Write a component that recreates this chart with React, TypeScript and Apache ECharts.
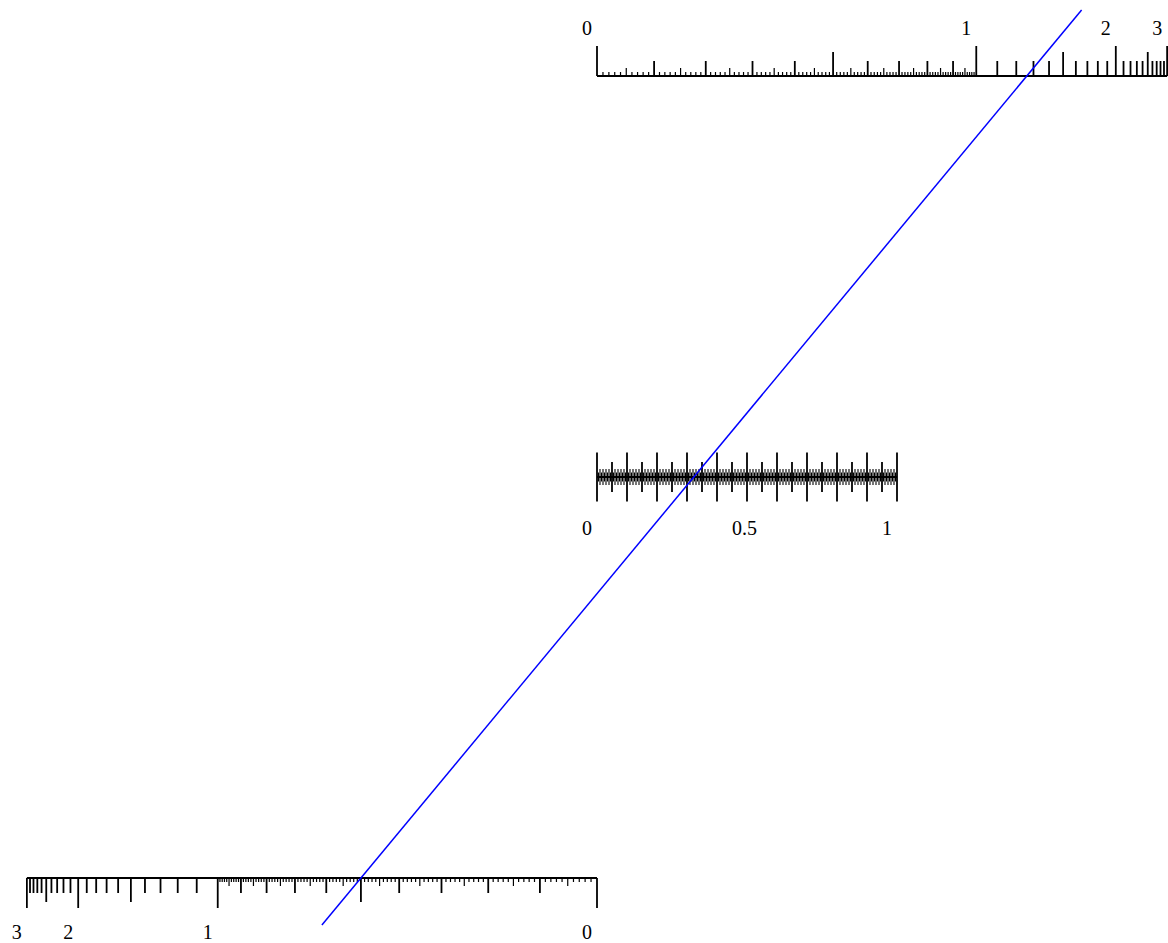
import React, { useEffect, useRef } from "react";
import * as echarts from "echarts";

// ---- data ----
const EXP_SCALE_MAX = 3; // outer scales run 0..3 on a 1 - e^-v scale
const EXP_LABELS = [0, 1, 2, 3];
const MID_SCALE_MAX = 1; // middle scale runs 0..1 linearly
const MID_LABELS = [0, 0.5, 1];
const ISOPLETH_BOTTOM = 0.5; // value read on the bottom scale
const ISOPLETH_TOP = 1.26; // value read on the top scale
const ISOPLETH_LEVELS = [-0.0586, 1.0823]; // how far the line extends past the outer scales

// scale levels (y axis)
const LEVEL_TOP = 1;
const LEVEL_MID = 0.5;
const LEVEL_BOT = 0;

const expU = (v: number) => 1 - Math.exp(-v);
const midU = (v: number) => v / 2;

// tick lengths (px)
const EXP_TICK_LEN = [30, 24, 15, 8, 4];
const MID_TICK_HALF = [24.5, 15, 8, 4.5];

function buildTicks() {
  const out: number[][] = [];
  for (let k = 0; k <= EXP_SCALE_MAX * 100; k++) {
    const v = k / 100;
    let rank: number;
    if (k % 100 === 0) rank = 0;
    else if (k % 50 === 0) rank = 1;
    else if (k % 10 === 0) rank = 2;
    else if (v < 1 && k % 5 === 0) rank = 3;
    else if (v < 1) rank = 4;
    else continue;
    out.push([expU(v), LEVEL_TOP, rank, 1]);
    out.push([-expU(v), LEVEL_BOT, rank, -1]);
  }
  for (let k = 0; k <= MID_SCALE_MAX * 200; k++) {
    const v = k / 200;
    let rank: number;
    if (k % 20 === 0) rank = 0;
    else if (k % 10 === 0) rank = 1;
    else if (k % 2 === 0) rank = 2;
    else rank = 3;
    out.push([midU(v), LEVEL_MID, rank, 0]);
  }
  return out;
}

type LabelItem = { u: number; level: number; text: string; dy: number };
function buildLabels(): LabelItem[] {
  const out: LabelItem[] = [];
  EXP_LABELS.forEach((v) => {
    out.push({ u: expU(v), level: LEVEL_TOP, text: String(v), dy: -47.7 });
    out.push({ u: -expU(v), level: LEVEL_BOT, text: String(v), dy: 53.5 });
  });
  MID_LABELS.forEach((v) => {
    out.push({ u: midU(v), level: LEVEL_MID, text: String(v), dy: 51 });
  });
  return out;
}

export default function App() {
  const ref = useRef<HTMLDivElement>(null);
  useEffect(() => {
    if (!ref.current) return;
    const chart = echarts.init(ref.current, null, { renderer: "svg" });
    const ticks = buildTicks();
    const labels = buildLabels();
    const xb = -expU(ISOPLETH_BOTTOM);
    const xt = expU(ISOPLETH_TOP);
    const isoAt = (y: number) => [xb + (xt - xb) * y, y];

    const PX_PER_U = 600;
    const ORIGIN_X = 597;
    const W = 1168;

    chart.setOption({
      animation: false,
      grid: { left: 0, right: 0, top: 76, bottom: 65 },
      xAxis: {
        type: "value",
        min: -ORIGIN_X / PX_PER_U,
        max: (W - ORIGIN_X) / PX_PER_U,
        show: false,
      },
      yAxis: { type: "value", min: 0, max: 1, show: false },
      series: [
        {
          type: "line",
          data: [
            [0, LEVEL_TOP],
            [expU(EXP_SCALE_MAX), LEVEL_TOP],
          ],
          symbol: "none",
          lineStyle: { color: "#000", width: 1.8 },
          silent: true,
        },
        {
          type: "line",
          data: [
            [0, LEVEL_BOT],
            [-expU(EXP_SCALE_MAX), LEVEL_BOT],
          ],
          symbol: "none",
          lineStyle: { color: "#000", width: 1.8 },
          silent: true,
        },
        {
          type: "line",
          data: [
            [0, LEVEL_MID],
            [midU(MID_SCALE_MAX), LEVEL_MID],
          ],
          symbol: "none",
          lineStyle: { color: "#000", width: 1.8 },
          silent: true,
        },
        {
          type: "custom",
          clip: false,
          silent: true,
          data: ticks,
          renderItem: (params: any, api: any) => {
            const u = api.value(0);
            const lvl = api.value(1);
            const rank = api.value(2);
            const dir = api.value(3);
            const p = api.coord([u, lvl]);
            if (dir === 0) {
              const h = MID_TICK_HALF[rank];
              return {
                type: "line",
                shape: { x1: p[0], y1: p[1] - h, x2: p[0], y2: p[1] + h },
                style: { stroke: "#000", lineWidth: rank < 2 ? 1.8 : 1.1 },
              };
            }
            const h = EXP_TICK_LEN[rank];
            return {
              type: "line",
              shape: { x1: p[0], y1: p[1], x2: p[0], y2: p[1] - dir * h },
              style: { stroke: "#000", lineWidth: rank < 3 ? 1.8 : 1.2 },
            };
          },
        },
        {
          type: "custom",
          clip: false,
          silent: true,
          data: labels.map((l) => [l.u, l.level]),
          renderItem: (params: any, api: any) => {
            const l = labels[params.dataIndex];
            const p = api.coord([l.u, l.level]);
            return {
              type: "text",
              x: p[0] - 15,
              y: p[1] + l.dy,
              style: {
                text: l.text,
                fill: "#000",
                fontFamily: "Liberation Serif",
                fontSize: 20,
                align: "left",
                verticalAlign: "middle",
              },
            };
          },
        },
        {
          type: "line",
          clip: false,
          data: [isoAt(ISOPLETH_LEVELS[0]), isoAt(ISOPLETH_LEVELS[1])],
          symbol: "none",
          lineStyle: { color: "#0000ff", width: 1.5 },
          silent: true,
        },
      ],
    });
    return () => chart.dispose();
  }, []);
  return (
    <div
      ref={ref}
      style={{ position: "absolute", left: 0, top: 0, width: 1168, height: 943 }}
    />
  );
}
